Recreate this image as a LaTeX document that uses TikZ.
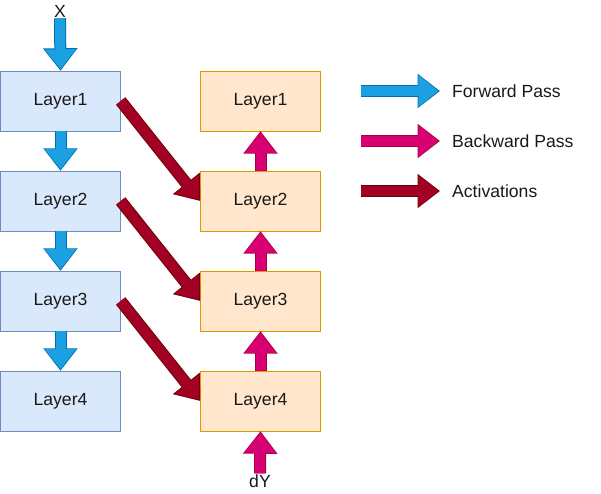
\documentclass[tikz,border=0pt]{standalone}
\usepackage{fontspec}
\setmainfont{Liberation Sans}
\usepackage{xcolor}
\usetikzlibrary{arrows.meta}

\definecolor{fwdfill}{HTML}{1BA1E2}
\definecolor{fwdline}{HTML}{006EAF}
\definecolor{bwdfill}{HTML}{D80073}
\definecolor{bwdline}{HTML}{A50040}
\definecolor{actfill}{HTML}{A20025}
\definecolor{actline}{HTML}{6F0000}
\definecolor{blueboxfill}{HTML}{DAE8FC}
\definecolor{blueboxline}{HTML}{6C8EBF}
\definecolor{orangeboxfill}{HTML}{FFE6CC}
\definecolor{orangeboxline}{HTML}{D79B00}

\begin{document}
\begin{tikzpicture}[x=1pt, y=-1pt,
    txt/.style={font=\fontsize{17.6}{20}\selectfont, text=black!90, inner sep=1pt},
    fwdlayer/.style={txt, draw=blueboxline, fill=blueboxfill, minimum width=120pt, minimum height=60pt},
    bwdlayer/.style={txt, draw=orangeboxline, fill=orangeboxfill, minimum width=120pt, minimum height=60pt},
    fat/.style 2 args={line width=10pt, draw=#1, shorten >=1.6pt,
        -{Triangle[width=30pt,length=20pt]},
        preaction={draw=#2, line width=12pt, shorten >=0pt,
            -{Triangle[width=33pt,length=22.5pt]}}}]
    \useasboundingbox (0,0) rectangle (601,493);

    % Layer boxes
    \foreach \i in {1,...,4} {
        \node[fwdlayer] (f\i) at (60.5,{1+100*\i}) {Layer\i};
        \node[bwdlayer] (b\i) at (260.5,{1+100*\i}) {Layer\i};
    }
    \node[txt] (x) at (60,11) {X};
    \node[txt] (dy) at (260,481) {dY};

    % Forward pass
    \draw[fat={fwdfill}{fwdline}] (x.south) -- (f1.north);
    \foreach \i/\j in {1/2,2/3,3/4} {
        \draw[fat={fwdfill}{fwdline}] (f\i.south) -- (f\j.north);
    }

    % Backward pass
    \draw[fat={bwdfill}{bwdline}] (dy.north) -- (b4.south);
    \foreach \i/\j in {4/3,3/2,2/1} {
        \draw[fat={bwdfill}{bwdline}] (b\i.north) -- (b\j.south);
    }

    % Activations
    \foreach \i/\j in {1/2,2/3,3/4} {
        \draw[fat={actfill}{actline}] (f\i.east) -- (b\j.west);
    }

    % Legend
    \coordinate (fwdA) at (361,91);  \coordinate (fwdB) at (440,91);
    \coordinate (bwdA) at (361,141); \coordinate (bwdB) at (440,141);
    \coordinate (actA) at (361,191); \coordinate (actB) at (440,191);
    \draw[fat={fwdfill}{fwdline}] (fwdA) -- (fwdB);
    \draw[fat={bwdfill}{bwdline}] (bwdA) -- (bwdB);
    \draw[fat={actfill}{actline}] (actA) -- (actB);
    \node[txt, anchor=west] (fwdtxt) at (451,91) {Forward Pass};
    \node[txt, anchor=west] (bwdtxt) at (451,141) {Backward Pass};
    \node[txt, anchor=west] (acttxt) at (451,191) {Activations};
\end{tikzpicture}
\end{document}
